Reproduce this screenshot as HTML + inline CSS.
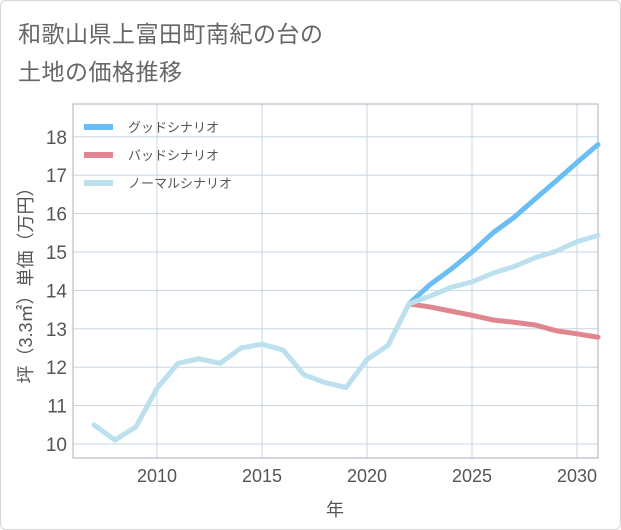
<!DOCTYPE html>
<html><head><meta charset="utf-8"><style>
html,body{margin:0;padding:0;background:#fff;}
#card{position:relative;width:619px;height:528px;border:1px solid #d6d6d6;border-radius:6px;background:#fff;overflow:hidden;}
#title{position:absolute;left:17px;top:14px;font:23px/38px "Liberation Sans","Noto Sans CJK JP",sans-serif;color:#666;margin:0;font-weight:normal;letter-spacing:0.5px;}
svg{position:absolute;left:0;top:0;}
text{font-family:"Liberation Sans","Noto Sans CJK JP",sans-serif;}
</style></head><body>
<div id="card">
<h1 id="title">和歌山県上富田町南紀の台の<br>土地の価格推移</h1>
<svg id="chart" width="621" height="530"></svg>
</div>
<script>
const normalYears=[2007,2008,2009,2010,2011,2012,2013,2014,2015,2016,2017,2018,2019,2020,2021,2022,2023,2024,2025,2026,2027,2028,2029,2030,2031];
const normalValues=[10.5,10.1,10.45,11.45,12.1,12.22,12.1,12.5,12.6,12.45,11.8,11.6,11.47,12.2,12.57,13.65,13.85,14.08,14.22,14.45,14.62,14.85,15.02,15.27,15.43];
const forecastYears=[2022,2023,2024,2025,2026,2027,2028,2029,2030,2031];
const goodValues=[13.65,14.15,14.55,15.0,15.5,15.9,16.38,16.85,17.33,17.8];
const badValues=[13.65,13.57,13.46,13.35,13.23,13.17,13.1,12.95,12.87,12.78];
const xTicks=[2010,2015,2020,2025,2030];
const yTicks=[10,11,12,13,14,15,16,17,18];
const L=72,R=597,T=103,B=457;
const x=v=>L+(v-2006)*(R-L)/25;
const y=v=>443-(v-10)*38.4;
const svg=document.getElementById('chart');
const NS='http://www.w3.org/2000/svg';
function mk(tag,attrs,parent){const e=document.createElementNS(NS,tag);for(const k in attrs)e.setAttribute(k,attrs[k]);(parent||svg).appendChild(e);return e;}
const grid=mk('g',{});


yTicks.forEach(v=>{
  const l=mk('line',{x1:L,x2:R,y1:y(v),y2:y(v),stroke:'#c9d6e3','stroke-width':1},grid);
  
  
  const t=mk('text',{x:66,y:y(v)+7,'text-anchor':'end','font-size':19,fill:'#555'});
  t.textContent=v;
  
  
});
xTicks.forEach(v=>{
  const l=mk('line',{x1:x(v),x2:x(v),y1:T,y2:B,stroke:'#c9d6e3','stroke-width':1},grid);
  
  
  const t=mk('text',{x:x(v),y:481,'text-anchor':'middle','font-size':18,fill:'#555'});
  t.textContent=v;
  
  
});
const frame=mk('rect',{x:L,y:T,width:R-L,height:B-T,fill:'none',stroke:'#a8b2bc','stroke-width':1});


function series(xs,vs,color,name){
  const p=mk('polyline',{points:xs.map((d,i)=>x(d)+','+y(vs[i])).join(' '),fill:'none',stroke:color,'stroke-width':5,'stroke-linejoin':'round','stroke-linecap':'round'});
  
  
}
series(forecastYears,badValues,'#e0868e','bad-scenario-line');
series(forecastYears,goodValues,'#6abef3','good-scenario-line');
series(normalYears,normalValues,'#bde0ef','normal-scenario-line');
const legend=[['グッドシナリオ','#6abef3'],['バッドシナリオ','#e0868e'],['ノーマルシナリオ','#bde0ef']];
legend.forEach((d,i)=>{
  const g=mk('g',{});
  
  
  const yy=126+i*28;
  mk('rect',{x:83,y:yy-3,width:29,height:6,fill:d[1]},g);
  const t=mk('text',{x:127,y:yy+5,'font-size':13,fill:'#555'},g);
  t.textContent=d[0];
});
const yt=mk('text',{x:0,y:0,'font-size':18,fill:'#555','text-anchor':'middle',transform:'translate(31,280) rotate(-90)'});
yt.textContent='坪（3.3㎡）単価（万円）';


const xt=mk('text',{x:334,y:515,'font-size':18,fill:'#555','text-anchor':'middle'});
xt.textContent='年';


</script>
</body></html>
